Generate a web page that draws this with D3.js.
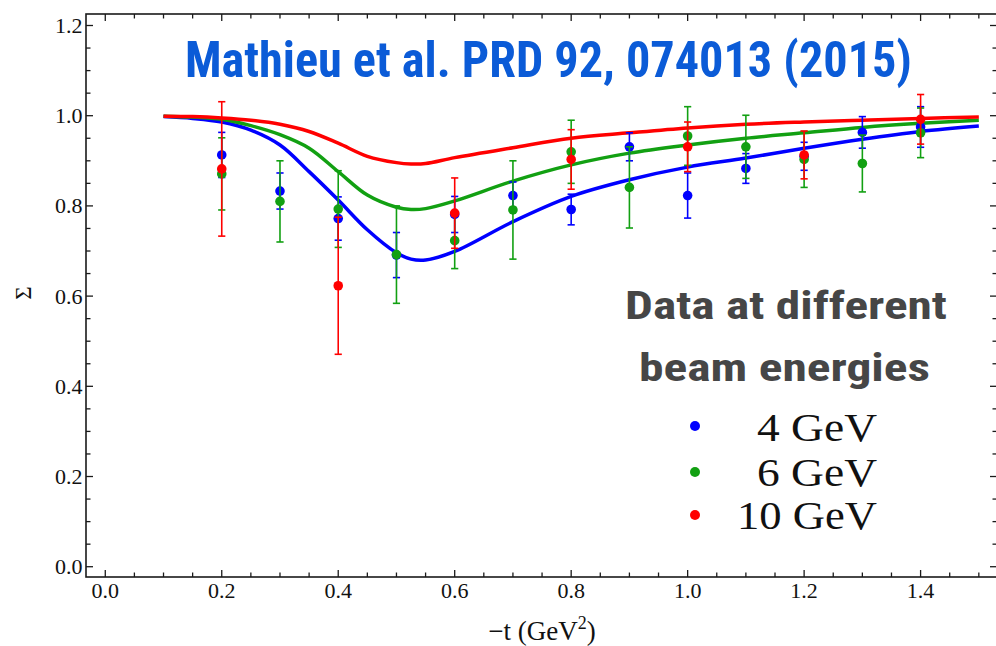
<!DOCTYPE html>
<html>
<head>
<meta charset="utf-8">
<script src="https://cdn.jsdelivr.net/npm/d3@7"></script>
<style>
  html, body { margin: 0; padding: 0; background: #ffffff; }
  svg { display: block; }
</style>
</head>
<body>
<svg id="chart" width="996" height="646"></svg>
<script>
// Beam asymmetry Σ versus −t: model curves and measured points at three beam energies.

// Model curve knots (−t in GeV², Σ)
const curveT   = [0.10, 0.15, 0.20, 0.25, 0.30, 0.35, 0.40, 0.45, 0.50, 0.525, 0.55, 0.60, 0.70, 0.80, 0.90, 1.00, 1.10, 1.20, 1.30, 1.40, 1.50];
const curve4   = [0.998, 0.994, 0.986, 0.968, 0.935, 0.876, 0.813, 0.747, 0.696, 0.682, 0.680, 0.699, 0.765, 0.821, 0.858, 0.886, 0.906, 0.928, 0.948, 0.965, 0.977];
const curve6   = [0.999, 0.997, 0.992, 0.978, 0.958, 0.928, 0.876, 0.824, 0.797, 0.792, 0.794, 0.811, 0.855, 0.891, 0.917, 0.935, 0.950, 0.962, 0.974, 0.983, 0.990];
const curve10  = [0.999, 0.998, 0.995, 0.990, 0.981, 0.965, 0.939, 0.910, 0.896, 0.893, 0.894, 0.907, 0.929, 0.950, 0.962, 0.973, 0.981, 0.986, 0.990, 0.994, 0.997];

// Measured points: 4 GeV
const t4     = [0.2, 0.3, 0.4, 0.5, 0.6, 0.7, 0.8, 0.9, 1.0, 1.1, 1.2, 1.3, 1.4];
const sigma4 = [0.913, 0.833, 0.772, 0.691, 0.781, 0.823, 0.792, 0.931, 0.823, 0.883, 0.910, 0.963, 0.975];
const err4   = [0.050, 0.040, 0.048, 0.050, 0.040, 0.030, 0.034, 0.031, 0.050, 0.033, 0.031, 0.035, 0.045];

// Measured points: 6 GeV
const t6     = [0.2, 0.3, 0.4, 0.5, 0.6, 0.7, 0.8, 0.9, 1.0, 1.1, 1.2, 1.3, 1.4];
const sigma6 = [0.871, 0.810, 0.793, 0.692, 0.723, 0.791, 0.920, 0.841, 0.955, 0.931, 0.903, 0.894, 0.962];
const err6   = [0.080, 0.090, 0.085, 0.108, 0.062, 0.109, 0.070, 0.090, 0.065, 0.070, 0.062, 0.063, 0.055];

// Measured points: 10 GeV
const t10     = [0.2, 0.4, 0.6, 0.8, 1.0, 1.2, 1.4];
const sigma10 = [0.882, 0.623, 0.784, 0.903, 0.931, 0.913, 0.992];
const err10   = [0.149, 0.152, 0.078, 0.066, 0.055, 0.053, 0.055];

// Axis ticks
const xMajor = [0.0, 0.2, 0.4, 0.6, 0.8, 1.0, 1.2, 1.4];
const xLabels = ["0.0", "0.2", "0.4", "0.6", "0.8", "1.0", "1.2", "1.4"];
const yMajor = [0.0, 0.2, 0.4, 0.6, 0.8, 1.0, 1.2];
const yLabels = ["0.0", "0.2", "0.4", "0.6", "0.8", "1.0", "1.2"];

const energyNames = ["4 GeV", "6 GeV", "10 GeV"];
const colors = ["#0000ff", "#12a012", "#ff0000"];

const svg = d3.select("#chart");
const frame = { left: 86, right: 997, top: 14, bottom: 577 };

const x = d3.scaleLinear().domain([-0.0331, 1.5312]).range([frame.left, frame.right]);
const y = d3.scaleLinear().domain([-0.0228, 1.2255]).range([frame.bottom, frame.top]);

const serif = "'Liberation Serif', 'Times New Roman', 'DejaVu Serif', serif";
const narrow = "'Liberation Sans Narrow', 'Roboto Condensed', 'Arial Narrow', Roboto, 'Liberation Sans', sans-serif";

// Minor ticks every 0.05
const xMinor = d3.range(0, 31).map(i => +(i * 0.05).toFixed(2)).filter(v => !xMajor.some(m => Math.abs(m - v) < 1e-6));
const yMinor = d3.range(0, 25).map(i => +(i * 0.05).toFixed(2)).filter(v => !yMajor.some(m => Math.abs(m - v) < 1e-6));

// Frame axes: ticks point into the plot on all four sides
const majorLen = 7, minorLen = 4.5;
const axes = svg.append("g").attr("stroke", "#1a1a1a").attr("fill", "none");

function tickSet(g, values, len) {
  values.forEach(v => {
    const px = x(v);
    g.append("line").attr("x1", px).attr("x2", px).attr("y1", frame.bottom).attr("y2", frame.bottom - len);
    g.append("line").attr("x1", px).attr("x2", px).attr("y1", frame.top).attr("y2", frame.top + len);
  });
}
function tickSetY(g, values, len) {
  values.forEach(v => {
    const py = y(v);
    g.append("line").attr("x1", frame.left).attr("x2", frame.left + len).attr("y1", py).attr("y2", py);
    g.append("line").attr("x1", frame.right).attr("x2", frame.right - len).attr("y1", py).attr("y2", py);
  });
}
const tickG = axes.append("g").attr("stroke-width", 1.3);
tickSet(tickG, xMajor, majorLen);
tickSet(tickG, xMinor, minorLen);
tickSetY(tickG, yMajor, majorLen);
tickSetY(tickG, yMinor, minorLen);

axes.append("rect")
  .attr("x", frame.left).attr("y", frame.top)
  .attr("width", frame.right - frame.left).attr("height", frame.bottom - frame.top)
  .attr("stroke-width", 1.6);

// Tick labels
svg.append("g").selectAll("text").data(xMajor).join("text")
  .attr("x", d => x(d)).attr("y", 598)
  .attr("text-anchor", "middle")
  .attr("font-family", serif).attr("font-size", 22).attr("fill", "#111")
  .text((d, i) => xLabels[i]);

svg.append("g").selectAll("text").data(yMajor).join("text")
  .attr("x", 82.5).attr("y", d => y(d) + 7.5)
  .attr("text-anchor", "end")
  .attr("font-family", serif).attr("font-size", 22).attr("fill", "#111")
  .text((d, i) => yLabels[i]);

// Axis titles
svg.append("text")
  .attr("transform", "translate(31,293) rotate(-90)")
  .attr("text-anchor", "middle")
  .attr("font-family", serif).attr("font-size", 23).attr("fill", "#111")
  .text("Σ");

const xt = svg.append("text")
  .attr("x", 542).attr("y", 640)
  .attr("text-anchor", "middle")
  .attr("font-family", serif).attr("font-size", 27).attr("fill", "#111");
xt.append("tspan").text("\u2212t (GeV");
xt.append("tspan").attr("font-size", 18).attr("dy", -11).text("2");
xt.append("tspan").attr("dy", 11).text(")");

// Model curves
const line = d3.line().x(d => x(d[0])).y(d => y(d[1])).curve(d3.curveCatmullRom.alpha(0.5));
const curves = [curve4, curve6, curve10];
const plot = svg.append("g");
curves.forEach((c, i) => {
  plot.append("path")
    .attr("d", line(curveT.map((t, k) => [t, c[k]])))
    .attr("fill", "none")
    .attr("stroke", colors[i])
    .attr("stroke-width", 3.5)
    .attr("stroke-linejoin", "round");
});

// Data with error bars (4, 6, then 10 GeV drawn on top)
const sets = [
  { t: t4, s: sigma4, e: err4 },
  { t: t6, s: sigma6, e: err6 },
  { t: t10, s: sigma10, e: err10 }
];
const capHalf = 3.6;
sets.forEach((set, i) => {
  const g = plot.append("g");
  const pts = set.t.map((t, k) => ({ t, s: set.s[k], e: set.e[k] }));
  const eb = g.append("g").attr("stroke", colors[i]).attr("stroke-width", 1.6);
  pts.forEach(p => {
    const px = x(p.t), y0 = y(p.s - p.e), y1 = y(p.s + p.e);
    eb.append("line").attr("x1", px).attr("x2", px).attr("y1", y0).attr("y2", y1);
    eb.append("line").attr("x1", px - capHalf).attr("x2", px + capHalf).attr("y1", y0).attr("y2", y0);
    eb.append("line").attr("x1", px - capHalf).attr("x2", px + capHalf).attr("y1", y1).attr("y2", y1);
  });
  g.selectAll("circle").data(pts).join("circle")
    .attr("cx", d => x(d.t)).attr("cy", d => y(d.s))
    .attr("r", 4.8).attr("fill", colors[i]);
});

// Reference headline
svg.append("text")
  .attr("x", 185).attr("y", 77)
  .attr("font-family", narrow).attr("font-weight", "bold").attr("font-size", 50)
  .attr("fill", "#0b5bd7")
  .attr("textLength", 727).attr("lengthAdjust", "spacingAndGlyphs")
  .text("Mathieu et al. PRD 92, 074013 (2015)");

// Legend heading
svg.append("text")
  .attr("x", 625).attr("y", 318.5)
  .attr("font-family", narrow).attr("font-weight", "bold").attr("font-size", 38)
  .attr("fill", "#464646")
  .attr("textLength", 322).attr("lengthAdjust", "spacingAndGlyphs")
  .text("Data at different");
svg.append("text")
  .attr("x", 639).attr("y", 381)
  .attr("font-family", narrow).attr("font-weight", "bold").attr("font-size", 38)
  .attr("fill", "#464646")
  .attr("textLength", 291).attr("lengthAdjust", "spacingAndGlyphs")
  .text("beam energies");

// Legend entries: tightly stacked serif labels, right-aligned
const legendDotY = [426, 472, 515];
const legendTextY = [441, 485.5, 529];
const legendTextStart = [757, 757, 737];
const legend = svg.append("g");
energyNames.forEach((name, i) => {
  legend.append("circle").attr("cx", 695).attr("cy", legendDotY[i]).attr("r", 5).attr("fill", colors[i]);
  legend.append("text")
    .attr("x", legendTextStart[i]).attr("y", legendTextY[i])
    .attr("font-family", serif).attr("font-size", 39).attr("fill", "#111")
    .attr("textLength", 877 - legendTextStart[i]).attr("lengthAdjust", "spacingAndGlyphs")
    .text(name);
});
</script>
</body>
</html>
